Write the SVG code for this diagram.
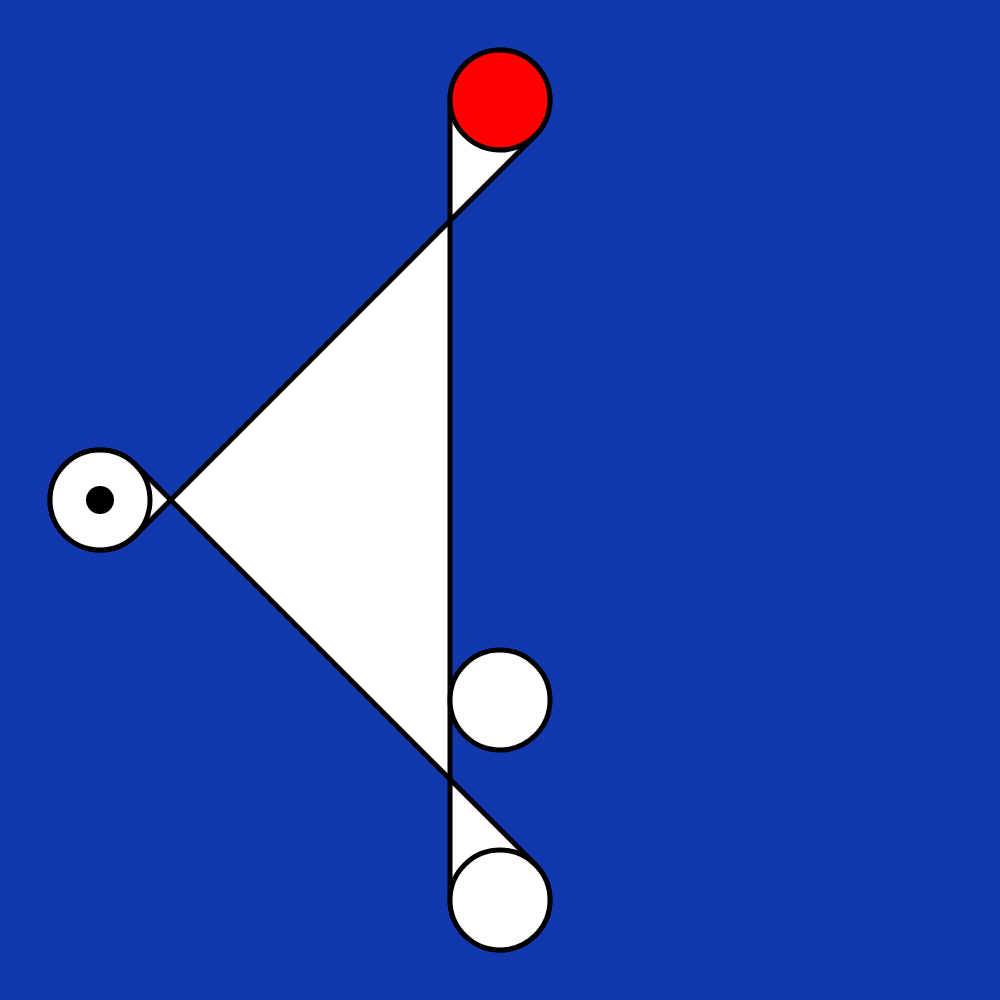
<svg xmlns="http://www.w3.org/2000/svg" width="1000" height="1000" viewBox="0 0 1000 1000">
<style>
.belt{fill:#fff;stroke:#000;stroke-width:5;stroke-linejoin:round}
.pulley{stroke:#000;stroke-width:5}
</style>
<rect width="1000" height="1000" fill="#1238AD"/>
<g id="connectors">
<path class="belt" d="M450,100 L450,900 A50,50 0 1 0 535.36,864.64 L135.36,464.64 A50,50 0 1 0 135.36,535.36 L535.36,135.36 A50,50 0 1 0 450,100 Z"/>
</g>
<g id="pulley-top"><circle class="pulley" cx="500" cy="100" r="50" fill="#ff0000"/></g>
<g id="pulley-left"><circle class="pulley" cx="100" cy="500" r="50" fill="#fff"/><circle cx="100" cy="500" r="14" fill="#000"/></g>
<g id="pulley-middle"><circle class="pulley" cx="500" cy="700" r="50" fill="#fff"/></g>
<g id="pulley-bottom"><circle class="pulley" cx="500" cy="900" r="50" fill="#fff"/></g>
</svg>
